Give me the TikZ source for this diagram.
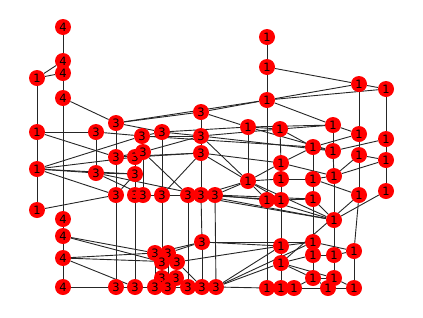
\documentclass[tikz,border=0pt]{standalone}
\usepackage{fontspec}
\setmainfont{DejaVu Sans}
\usetikzlibrary{backgrounds}
\tikzset{
  vertex/.style={circle, fill=red, minimum size=16pt, inner sep=0pt,
    font=\fontsize{11.5}{12}\selectfont},
  link/.style={line width=0.9pt, black!85}
}
\begin{document}
\begin{tikzpicture}[x=1pt, y=-1pt]
  \useasboundingbox (0,0) rectangle (423,317);
  % label 4
  \node[vertex] (f1) at (63,27) {4};
  \node[vertex] (f2) at (63,61) {4};
  \node[vertex] (f3) at (63,73) {4};
  \node[vertex] (f4) at (63,98) {4};
  \node[vertex] (f5) at (63,219) {4};
  \node[vertex] (f6) at (63,236) {4};
  \node[vertex] (f7) at (63,258) {4};
  \node[vertex] (f8) at (63,287) {4};
  % label 1, left column
  \node[vertex] (l1) at (37,78) {1};
  \node[vertex] (l2) at (37,132) {1};
  \node[vertex] (l3) at (37,169) {1};
  \node[vertex] (l4) at (37,210) {1};
  % label 3, upper group
  \node[vertex] (a1) at (116,123) {3};
  \node[vertex] (a2) at (96,132) {3};
  \node[vertex] (a4) at (162,132) {3};
  \node[vertex] (a3) at (142,136) {3};
  \node[vertex] (a5) at (201,112) {3};
  \node[vertex] (a6) at (201,136) {3};
  \node[vertex] (a7) at (116,157) {3};
  \node[vertex] (a8) at (135,157) {3};
  \node[vertex] (a9) at (143,152) {3};
  \node[vertex] (a10) at (201,153) {3};
  \node[vertex] (a11) at (96,173) {3};
  \node[vertex] (a12) at (135,174) {3};
  \node[vertex] (b1) at (116,195) {3};
  \node[vertex] (b2) at (135,195) {3};
  \node[vertex] (b3) at (143,195) {3};
  \node[vertex] (b4) at (162,195) {3};
  \node[vertex] (b5) at (188,195) {3};
  \node[vertex] (b6) at (201,195) {3};
  \node[vertex] (b7) at (215,195) {3};
  % label 3, lower group
  \node[vertex] (c5) at (202,242) {3};
  \node[vertex] (c1) at (155,253) {3};
  \node[vertex] (c2) at (168,253) {3};
  \node[vertex] (c3) at (162,262) {3};
  \node[vertex] (c4) at (177,262) {3};
  \node[vertex] (c6) at (162,278) {3};
  \node[vertex] (c7) at (176,278) {3};
  \node[vertex] (d1) at (116,287) {3};
  \node[vertex] (d2) at (135,287) {3};
  \node[vertex] (d3) at (155,287) {3};
  \node[vertex] (d4) at (168,287) {3};
  \node[vertex] (d5) at (188,287) {3};
  \node[vertex] (d6) at (202,287) {3};
  \node[vertex] (d7) at (216,287) {3};
  % label 1, right group
  \node[vertex] (r1) at (267,37) {1};
  \node[vertex] (r2) at (267,67) {1};
  \node[vertex] (r3) at (359,84) {1};
  \node[vertex] (r4) at (386,89) {1};
  \node[vertex] (r5) at (267,100) {1};
  \node[vertex] (r6) at (333,125) {1};
  \node[vertex] (r7) at (248,127) {1};
  \node[vertex] (r8) at (280,129) {1};
  \node[vertex] (r9) at (359,134) {1};
  \node[vertex] (r10) at (386,139) {1};
  \node[vertex] (r11) at (313,147) {1};
  \node[vertex] (r12) at (333,151) {1};
  \node[vertex] (r13) at (359,155) {1};
  \node[vertex] (r14) at (386,160) {1};
  \node[vertex] (r15) at (281,163) {1};
  \node[vertex] (r16) at (248,181) {1};
  \node[vertex] (r17) at (281,179) {1};
  \node[vertex] (r18) at (313,179) {1};
  \node[vertex] (r19) at (334,176) {1};
  \node[vertex] (r20) at (359,195) {1};
  \node[vertex] (r21) at (386,191) {1};
  \node[vertex] (r22) at (267,200) {1};
  \node[vertex] (r23) at (281,200) {1};
  \node[vertex] (r24) at (313,199) {1};
  \node[vertex] (r25) at (334,220) {1};
  \node[vertex] (r26) at (281,246) {1};
  \node[vertex] (r27) at (313,242) {1};
  \node[vertex] (r28) at (313,255) {1};
  \node[vertex] (r29) at (334,255) {1};
  \node[vertex] (r30) at (354,251) {1};
  \node[vertex] (r31) at (281,263) {1};
  \node[vertex] (r32) at (313,278) {1};
  \node[vertex] (r33) at (334,278) {1};
  \node[vertex] (r34) at (267,288) {1};
  \node[vertex] (r35) at (281,288) {1};
  \node[vertex] (r36) at (294,288) {1};
  \node[vertex] (r37) at (328,288) {1};
  \node[vertex] (r38) at (354,288) {1};
  % edges
  \begin{scope}[on background layer]
    \foreach \u/\v in {f1/f2, f2/f3, f2/l1, f3/l1, f3/f4, f4/f5, f4/a1, l1/l2,
      l2/l3, l3/l4, l2/a2, l2/a7, l3/a11, l3/a3, l3/a8, l3/b1, l3/a12, l4/b1,
      a2/a3, a2/a11, a1/a7, a1/a5, a1/r5, a1/a4, a3/a6, a3/a4, a4/a6, a4/b4,
      a4/r7, a5/a6, a5/r5, a5/r7, a6/a10, a6/r8, a6/r12, a6/r16, a7/a9, a7/b1,
      a7/a10, a8/a12, a8/a10, a9/a6, a9/b5, a9/b3, a11/a12, a11/b3, a11/b6,
      a12/b1, a12/b2, a10/b4, a10/b6, a10/r16, a10/r15, a3/r11,
      b3/b4, b4/b5, b5/b6, b1/d1, b2/d2, b4/c3, b5/d5, b6/c5, b7/d7,
      b6/r16, b7/r16, b7/r22, b6/r23, b7/r24, b5/r25, b6/r25}
      \draw[link] (\u) -- (\v);
    \foreach \u/\v in {f5/f6, f6/f7, f7/f8, f6/c1, f6/c3, f7/c1, f7/c4, f7/d2,
      f8/d1, d1/d2, d2/d3, d3/d4, d4/d5, d5/d6, d6/d7,
      c1/c2, c1/c3, c2/c4, c3/c4, c3/c6, c4/c7, c6/c7, c1/c5, c2/c5, c4/r26,
      c5/r26, c5/r27, c1/d3, c2/d4, c4/d6, c7/d5, c6/d3, c6/d4, c7/d6, c5/d6,
      d7/r26, d7/r31, d7/r27, d7/r34}
      \draw[link] (\u) -- (\v);
    \foreach \u/\v in {r1/r2, r2/r5, r2/r3, r3/r4, r5/r3, r5/r4, r5/r6, r3/r9,
      r4/r10, r5/r22, r22/r34, r7/r8, r7/r6, r8/r6, r7/r16, r8/r15, r8/r11,
      r7/r12, r6/r9, r6/r12, r11/r9, r11/r12, r12/r10, r9/r13, r10/r14,
      r13/r14, r11/r18, r12/r19, r15/r11, r15/r16, r15/r17, r15/r19, r16/r17,
      r16/r22, r16/r23, r16/r25, r17/r18, r17/r23, r18/r19, r18/r20, r18/r24,
      r19/r13, r19/r14, r19/r25, r13/r20, r14/r21, r20/r30, r21/r25, r22/r23,
      r22/r25, r23/r24, r23/r26, r24/r25, r24/r27, r31/r20, r25/r29, r29/r33,
      r30/r38, r33/r38, r26/r31, r31/r35, r26/r27, r27/r28, r27/r30, r28/r29,
      r28/r32, r31/r28, r31/r32, r31/r33, r32/r33, r32/r37, r36/r32, r34/r35,
      r35/r36, r36/r37, r37/r38, r29/r30}
      \draw[link] (\u) -- (\v);
  \end{scope}
\end{tikzpicture}
\end{document}
